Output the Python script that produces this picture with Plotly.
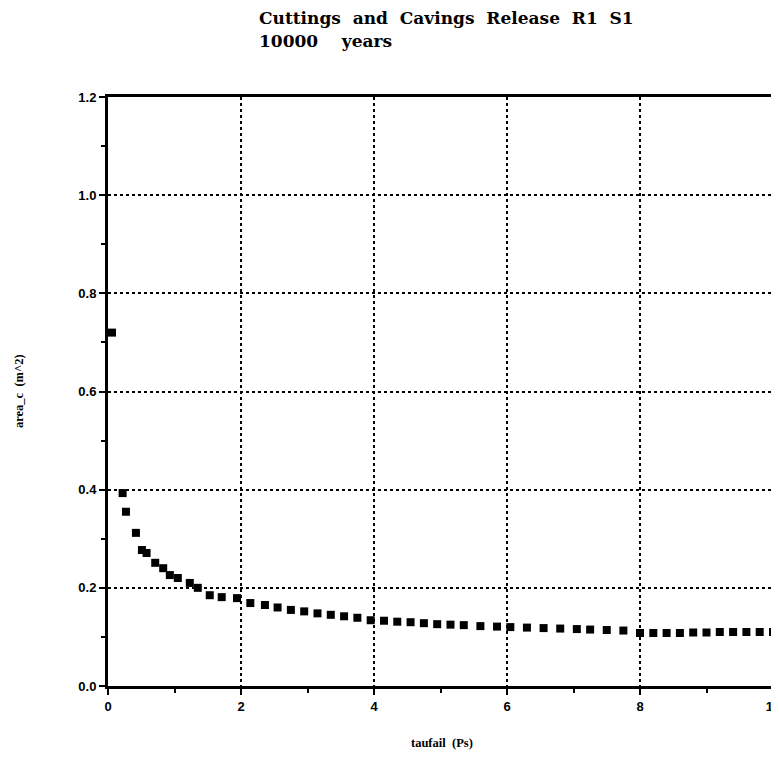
import plotly.graph_objects as go

taufail = [0.06, 0.22, 0.27, 0.42, 0.51, 0.58, 0.71, 0.83, 0.93, 1.05, 1.23, 1.35, 1.53, 1.71, 1.94,
           2.14, 2.36, 2.55, 2.75, 2.95, 3.15, 3.35, 3.55, 3.75, 3.95, 4.15, 4.35, 4.55, 4.75, 4.95,
           5.15, 5.35, 5.6, 5.85, 6.05, 6.3, 6.55, 6.8, 7.05, 7.25, 7.5, 7.75, 8.0, 8.2, 8.4, 8.6,
           8.8, 9.0, 9.2, 9.4, 9.6, 9.8, 10.0]
area_c = [0.72, 0.393, 0.355, 0.312, 0.277, 0.271, 0.251, 0.240, 0.226, 0.220, 0.210, 0.200, 0.185,
          0.181, 0.179, 0.169, 0.165, 0.160, 0.155, 0.152, 0.148, 0.145, 0.142, 0.139, 0.134, 0.133,
          0.131, 0.130, 0.128, 0.126, 0.125, 0.124, 0.122, 0.121, 0.120, 0.119, 0.118, 0.117, 0.116,
          0.115, 0.114, 0.113, 0.108, 0.108, 0.108, 0.108, 0.109, 0.109, 0.110, 0.110, 0.110, 0.110, 0.110]

NB = "\u00a0"
title_line1 = f"Cuttings{NB} and{NB} Cavings{NB} Release{NB} R1{NB} S1"
title_line2 = f"10000{NB}{NB}{NB} years"
x_title = f"taufail{NB} (Ps)"
y_title = f"area_c{NB} (m^2)"

W, H = 779, 757
OFF = 8  # page body margin
L, T = 108 - OFF, 97 - OFF
R = W - (773 - OFF)
B = H - (686 - OFF)
pw, ph = W - L - R, H - T - B


def px_x(x):
    return (x - OFF - L) / pw


def px_y(y):
    return 1 - (y - OFF - T) / ph


fig = go.Figure()
fig.add_trace(go.Scatter(
    x=taufail, y=area_c, mode="markers",
    marker=dict(symbol="square", size=8, color="black", line=dict(width=0)),
    showlegend=False, cliponaxis=False,
))

axis_common = dict(
    showline=True, linecolor="black", linewidth=3, mirror=True,
    showgrid=True, gridcolor="black", gridwidth=2, griddash="dot",
    zeroline=False, ticks="outside", tickcolor="black", tickwidth=2, ticklen=6,
    tickfont=dict(family="Liberation Sans", size=13, color="black", weight="bold"),
    automargin=False,
)

title_font = dict(family="DejaVu Serif", size=17, color="black", weight="bold")
label_font = dict(family="Liberation Serif", size=12.5, color="black", weight="bold")

fig.update_layout(
    width=W, height=H,
    margin=dict(l=L, r=R, t=T, b=B, autoexpand=False),
    paper_bgcolor="white", plot_bgcolor="white",
    xaxis=dict(range=[0, 10], tickvals=[0, 2, 4, 6, 8, 10],
               minor=dict(tickvals=[1, 3, 5, 7, 9], ticks="outside", ticklen=4, tickwidth=2,
                          tickcolor="black", showgrid=False),
               **axis_common),
    yaxis=dict(range=[0, 1.2], tickvals=[0, 0.2, 0.4, 0.6, 0.8, 1.0, 1.2],
               ticktext=["0.0", "0.2", "0.4", "0.6", "0.8", "1.0", "1.2"],
               minor=dict(tickvals=[0.1, 0.3, 0.5, 0.7, 0.9, 1.1], ticks="outside", ticklen=4,
                          tickwidth=2, tickcolor="black", showgrid=False),
               **axis_common),
    annotations=[
        dict(text=title_line1, xref="paper", yref="paper", x=px_x(257), y=px_y(18),
             xanchor="left", yanchor="middle", showarrow=False, font=title_font),
        dict(text=title_line2, xref="paper", yref="paper", x=px_x(257), y=px_y(41),
             xanchor="left", yanchor="middle", showarrow=False, font=title_font),
        dict(text=x_title, xref="paper", yref="paper", x=px_x(442), y=px_y(743),
             xanchor="center", yanchor="middle", showarrow=False, font=label_font),
        dict(text=y_title, xref="paper", yref="paper", x=px_x(19), y=px_y(391),
             xanchor="center", yanchor="middle", textangle=-90, showarrow=False, font=label_font),
    ],
)

fig.write_html("out.html")
